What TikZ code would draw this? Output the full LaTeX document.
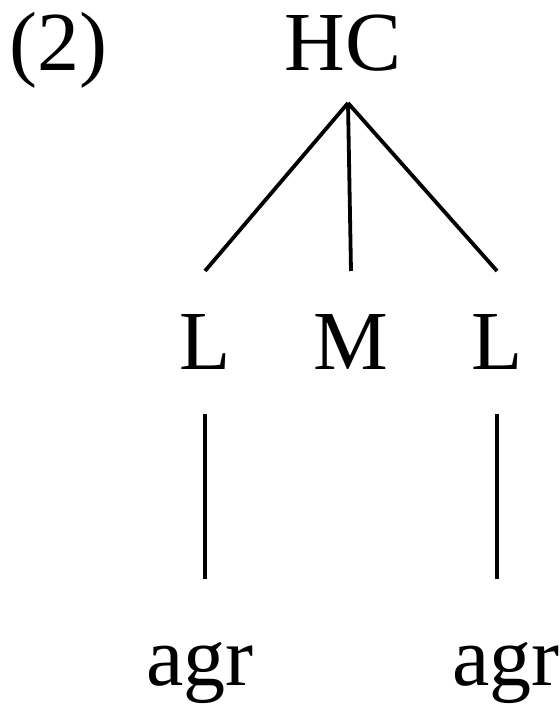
\documentclass[tikz,border=0pt]{standalone}
\usepackage{fontspec}
\setmainfont{Liberation Serif}
\usetikzlibrary{positioning}

\tikzset{
  lbl/.style={font=\fontsize{42}{50}\selectfont, inner sep=0pt, anchor=base},
  tone/.style={lbl, outer ysep=22pt},
  seg/.style={lbl, outer ysep=31.5pt},
  branch/.style={line width=1.9pt},
}

\begin{document}
\begin{tikzpicture}[x=0.5pt, y=-0.5pt]
  \useasboundingbox (0,0) rectangle (559,704);

  % example number and head
  \node[lbl, anchor=base west] (exnum) at (9,71) {(2)};
  \node[lbl] (hc) at (343,71) {HC};
  \coordinate (apex) at (348,103);

  % tones
  \node[tone] (lleft) at (205,370) {L};
  \node[tone] (mid) at (351,370) {M};
  \node[tone] (lright) at (497,370) {L};

  % agreement segments
  \node[seg] (agrleft) at (200,685) {agr};
  \node[seg] (agrright) at (506,685) {agr};

  % branches
  \draw[branch] (apex) -- (lleft.north);
  \draw[branch] (apex) -- (mid.north);
  \draw[branch] (apex) -- (lright.north);
  \draw[branch] (lleft.south) -- (lleft.south |- agrleft.north);
  \draw[branch] (lright.south) -- (lright.south |- agrright.north);
\end{tikzpicture}
\end{document}
